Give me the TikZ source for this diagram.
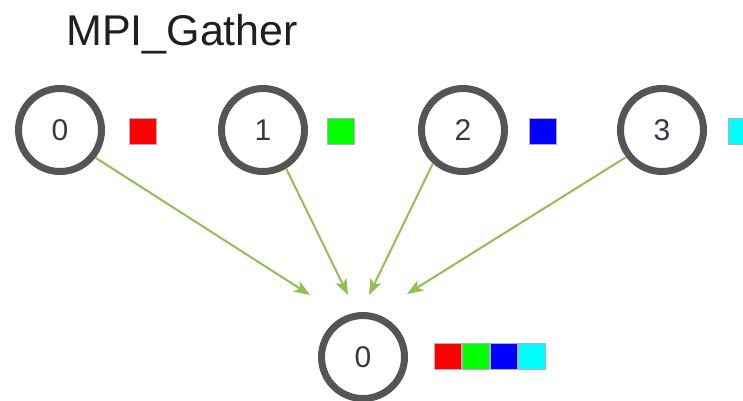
\documentclass[tikz,border=0pt]{standalone}
\usepackage{fontspec}
\setmainfont{Liberation Sans}
\usetikzlibrary{arrows.meta}
\definecolor{ringgray}{HTML}{555555}
\definecolor{digitgray}{HTML}{333A44}
\definecolor{arrowgreen}{HTML}{92C050}
\definecolor{boxedge}{HTML}{B0B0B0}
\definecolor{cellred}{HTML}{FF0000}
\definecolor{cellgreen}{HTML}{00FF00}
\definecolor{cellblue}{HTML}{0000FF}
\definecolor{cellcyan}{HTML}{00FFFF}
\tikzset{
  proc/.style={circle, draw=ringgray, line width=7pt, minimum size=83pt, inner sep=0pt,
    text=digitgray, font=\fontsize{30}{30}\selectfont},
  databox/.style={draw=boxedge, line width=0.8pt, minimum width=27pt, minimum height=26pt, inner sep=0pt},
  sendarrow/.style={draw=arrowgreen, line width=2pt, -{Stealth[length=16pt,width=12pt,inset=4pt]}},
}
\begin{document}
\begin{tikzpicture}[x=1pt,y=-1pt]
\useasboundingbox (0,0) rectangle (743,400);
\node[anchor=base west, text=black!88, font=\fontsize{43}{43}\selectfont, inner sep=0pt] (title) at (66,45) {MPI\_Gather};

\node[proc] (p0) at (60,130) {0};
\node[proc] (p1) at (263,130) {1};
\node[proc] (p2) at (463,130) {2};
\node[proc] (p3) at (662,130) {3};
\node[proc] (r0) at (363,357) {0};

\node[databox, fill=cellred] (d0) at (143,131) {};
\node[databox, fill=cellgreen] (d1) at (341,131) {};
\node[databox, fill=cellblue] (d2) at (543,131) {};
\node[databox, fill=cellcyan] (d3) at (742,131) {};

\node[databox, fill=cellred] (g0) at (448,356) {};
\node[databox, fill=cellgreen] (g1) at (476,356) {};
\node[databox, fill=cellblue] (g2) at (504,356) {};
\node[databox, fill=cellcyan] (g3) at (532,356) {};

\coordinate (t0) at (310,295);
\coordinate (t1) at (348,295);
\coordinate (t2) at (369,295);
\coordinate (t3) at (407,294);

\draw[sendarrow] (p0.-38) -- (t0);
\draw[sendarrow] (p1.-59) -- (t1);
\draw[sendarrow] (p2.228) -- (t2);
\draw[sendarrow] (p3.217) -- (t3);
\end{tikzpicture}
\end{document}
